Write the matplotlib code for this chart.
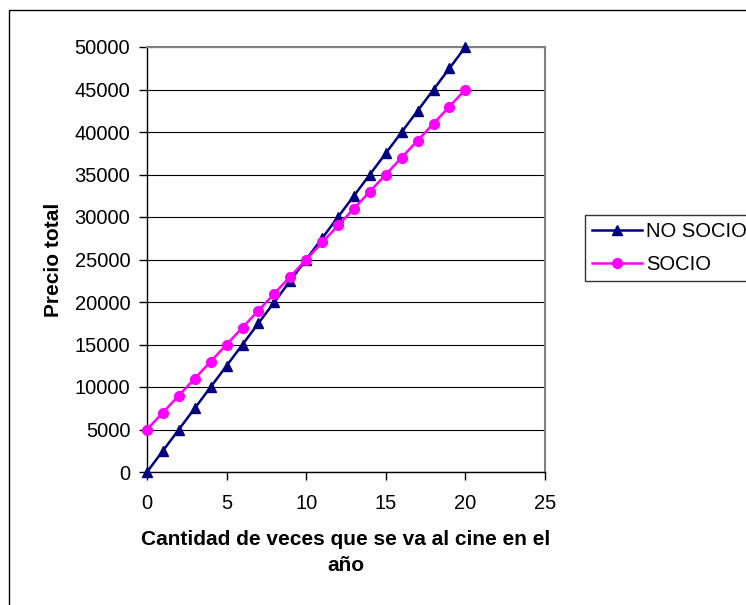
import matplotlib.pyplot as plt
from matplotlib.patches import Rectangle

plt.rcParams['font.family'] = ['Liberation Sans', 'DejaVu Sans']

# veces al cine en el año
veces = [0, 1, 2, 3, 4, 5, 6, 7, 8, 9, 10, 11, 12, 13, 14, 15, 16, 17, 18, 19, 20]
no_socio = [0, 2500, 5000, 7500, 10000, 12500, 15000, 17500, 20000, 22500, 25000,
            27500, 30000, 32500, 35000, 37500, 40000, 42500, 45000, 47500, 50000]
socio = [5000, 7000, 9000, 11000, 13000, 15000, 17000, 19000, 21000, 23000, 25000,
         27000, 29000, 31000, 33000, 35000, 37000, 39000, 41000, 43000, 45000]

x_ticks = [0, 5, 10, 15, 20, 25]
y_ticks = [0, 5000, 10000, 15000, 20000, 25000, 30000, 35000, 40000, 45000, 50000]

fig = plt.figure(figsize=(7.46, 6.05), dpi=100)
ax = fig.add_axes([147 / 746, 1 - 472 / 605, (545 - 147) / 746, (472 - 47) / 605])

# outer chart border (cut off on the right and bottom)
fig.patches.append(Rectangle((9 / 746, -0.1), 2, 1.1 - 10 / 605,
                             transform=fig.transFigure, fill=False,
                             edgecolor='black', linewidth=1))

ax.plot(veces, no_socio, '-', color='#000080', marker='^', markersize=7.5,
        linewidth=1.8, label='NO SOCIO', clip_on=False, zorder=3)
ax.plot(veces, socio, '-', color='#FF00FF', marker='o', markersize=7,
        linewidth=1.8, label='SOCIO', clip_on=False, zorder=3)

ax.set_xlim(0, 25)
ax.set_ylim(0, 50000)
ax.set_xticks(x_ticks)
ax.set_yticks(y_ticks)
ax.yaxis.grid(True, color='black', linewidth=0.8)
ax.set_axisbelow(True)

for side in ['top', 'right']:
    ax.spines[side].set_color('#808080')
    ax.spines[side].set_linewidth(1.5)
for side in ['left', 'bottom']:
    ax.spines[side].set_color('black')
    ax.spines[side].set_linewidth(1)

ax.tick_params(axis='both', direction='out', length=6, width=1,
               labelsize=14.5, pad=6)
ax.tick_params(axis='x', pad=10)

ax.set_xlabel('Cantidad de veces que se va al cine en el\naño',
              fontsize=15, fontweight='bold', labelpad=12, linespacing=1.45)
ax.set_ylabel('Precio total', fontsize=15, fontweight='bold', labelpad=8)

leg = fig.legend(loc='upper left', bbox_to_anchor=(585 / 746, 1 - 215 / 605),
                 fontsize=14.5, frameon=True, fancybox=False, edgecolor='black',
                 borderpad=0.35, handlelength=2.5, handletextpad=0.2,
                 labelspacing=0.7, borderaxespad=0)
leg.get_frame().set_linewidth(1)

fig.savefig('out.png', dpi=100)
